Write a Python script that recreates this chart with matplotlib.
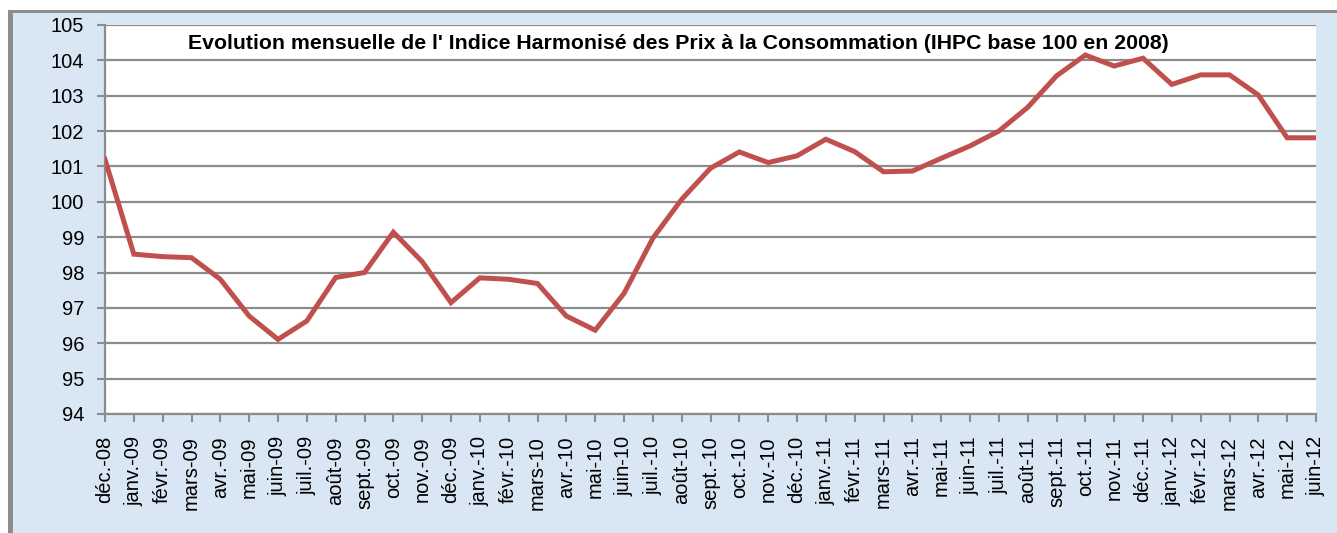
import matplotlib
matplotlib.use("Agg")
import matplotlib.pyplot as plt
from matplotlib import patches

plt.rcParams['font.family'] = ['Liberation Sans', 'DejaVu Sans']

# Monthly IHPC values (base 100 in 2008)
months = [
    "déc.-08", "janv.-09", "févr.-09", "mars-09", "avr.-09", "mai-09", "juin-09",
    "juil.-09", "août-09", "sept.-09", "oct.-09", "nov.-09", "déc.-09",
    "janv.-10", "févr.-10", "mars-10", "avr.-10", "mai-10", "juin-10",
    "juil.-10", "août-10", "sept.-10", "oct.-10", "nov.-10", "déc.-10",
    "janv.-11", "févr.-11", "mars-11", "avr.-11", "mai-11", "juin-11",
    "juil.-11", "août-11", "sept.-11", "oct.-11", "nov.-11", "déc.-11",
    "janv.-12", "févr.-12", "mars-12", "avr.-12", "mai-12", "juin-12",
]
ihpc = [
    101.2, 98.52, 98.45, 98.42, 97.81, 96.77, 96.11,
    96.63, 97.86, 98.0, 99.14, 98.31, 97.15,
    97.85, 97.81, 97.69, 96.77, 96.37, 97.41,
    98.97, 100.07, 100.95, 101.41, 101.11, 101.3,
    101.77, 101.42, 100.85, 100.87, 101.23, 101.58,
    102.0, 102.67, 103.56, 104.15, 103.84, 104.06,
    103.32, 103.59, 103.59, 103.02, 101.81, 101.81,
]
y_ticks = list(range(94, 106))

title = ("Evolution mensuelle de l' Indice Harmonisé des Prix "
         "à la Consommation (IHPC base 100 en 2008)")

W, H = 1337, 533
fig = plt.figure(figsize=(W / 100, H / 100), dpi=100)
fig.patch.set_facecolor('white')

# grey frame and light blue panel behind the chart
fig.patches.append(patches.Rectangle((8 / W, 0), 1, 1 - 10 / H, transform=fig.transFigure,
                                     facecolor='#8c8c8c', edgecolor='none', zorder=-2))
fig.patches.append(patches.Rectangle((13 / W, 0), 1, 1 - 13 / H, transform=fig.transFigure,
                                     facecolor='#d9e6f3', edgecolor='none', zorder=-1))

ax = fig.add_axes([105 / W, 1 - 414 / H, (1316 - 105) / W, (414 - 25) / H])
ax.set_facecolor('white')

x = list(range(len(months)))
ax.plot(x, ihpc, color='#c0504d', linewidth=3.6, solid_joinstyle='miter', zorder=3)

ax.set_xlim(0, len(months) - 1)
ax.set_ylim(94, 105)
ax.set_yticks(y_ticks)
ax.set_xticks(x)
ax.set_xticklabels(months, rotation=90, fontsize=14.5)
ax.tick_params(axis='y', labelsize=14.5, length=6, width=1.5, color='#8c8c8c', pad=9)
ax.tick_params(axis='x', length=6, width=1.5, color='#8c8c8c', pad=10)

ax.grid(axis='y', color='#8c8c8c', linewidth=1.6)
ax.set_axisbelow(True)
for side in ['top', 'right']:
    ax.spines[side].set_visible(False)
for side in ['left', 'bottom']:
    ax.spines[side].set_color('#8c8c8c')
    ax.spines[side].set_linewidth(1.6)

fig.text(678 / W, 1 - 43 / H, title, ha='center', va='center',
         fontsize=15.3, fontweight='bold')

fig.savefig("out.png", dpi=100)
